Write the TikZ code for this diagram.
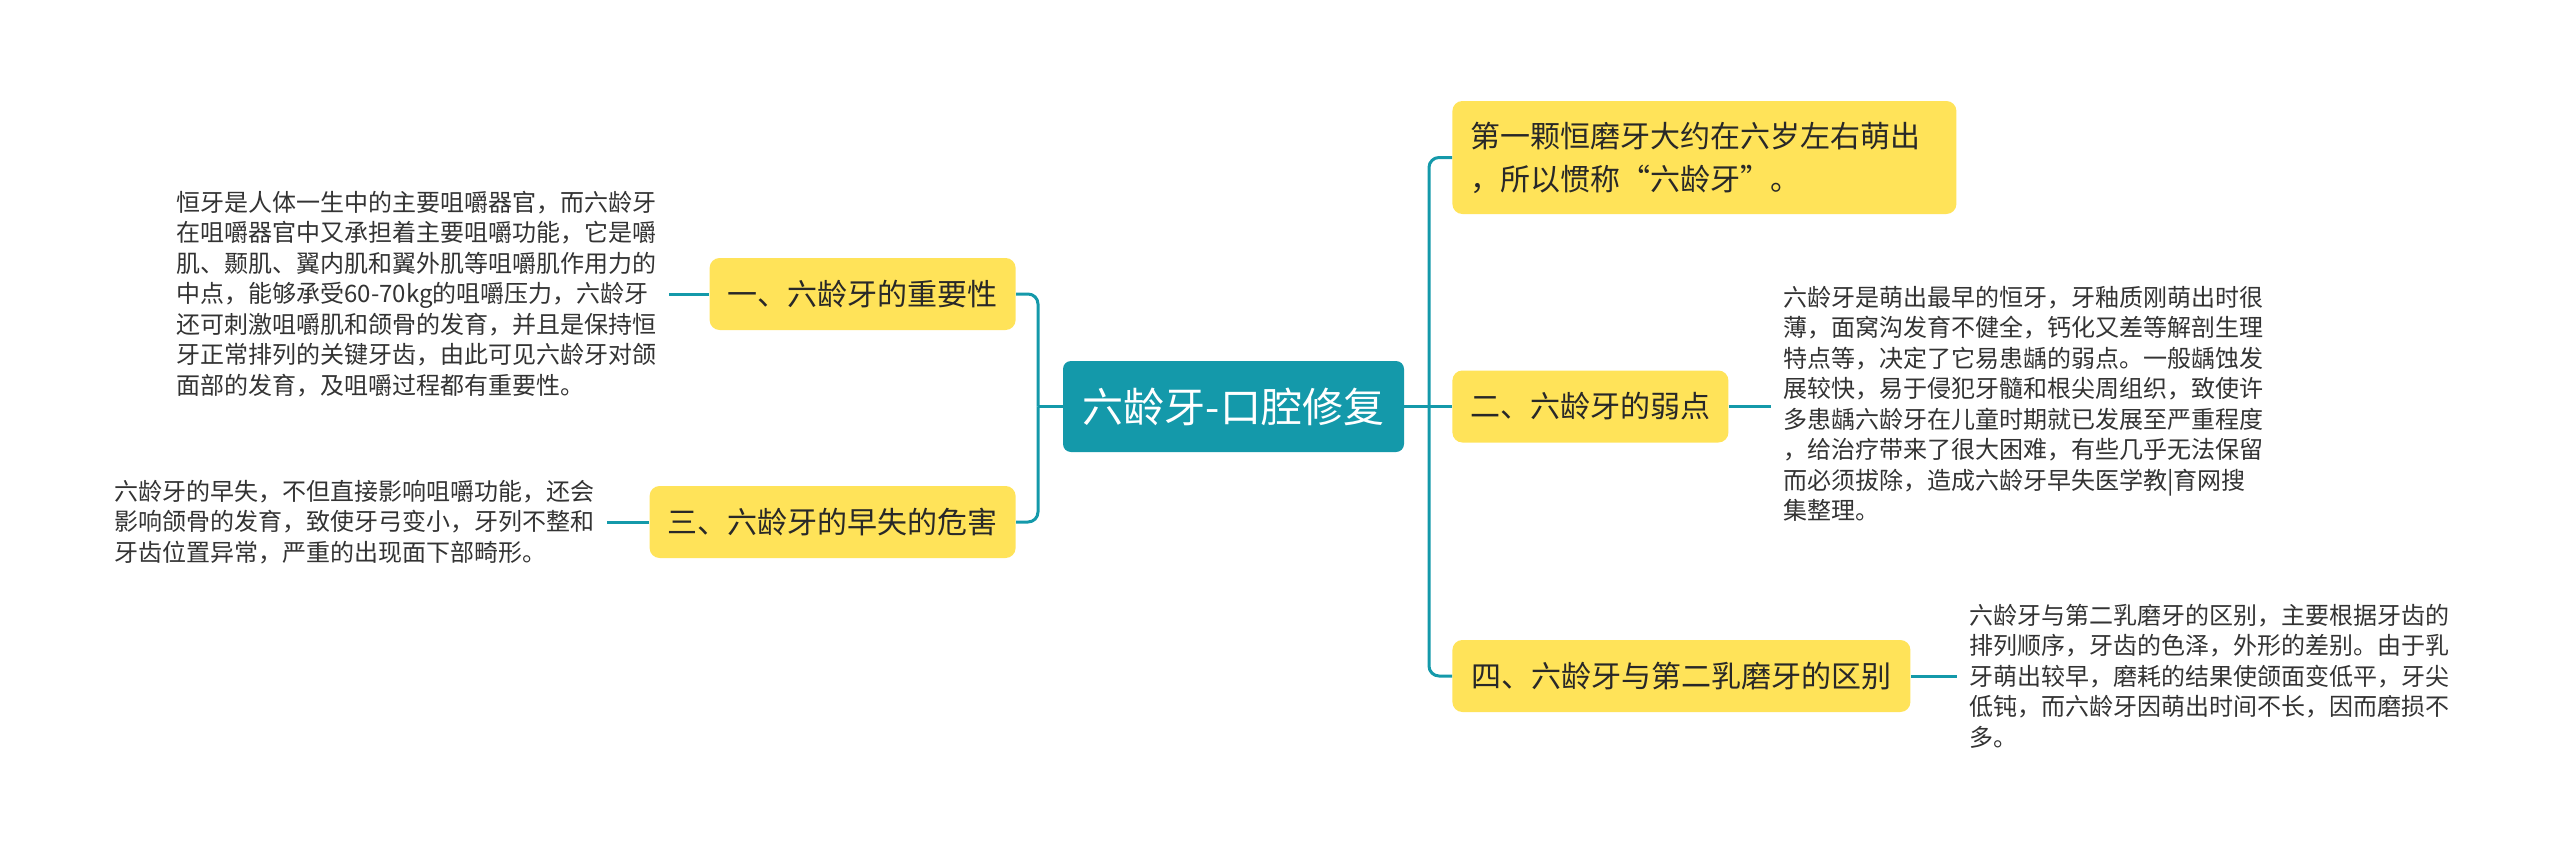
\documentclass[tikz,border=0pt]{standalone}
\usepackage{fontspec}
\setmainfont{Noto Sans CJK SC}
\definecolor{teal1}{RGB}{20,153,170}
\definecolor{yel}{RGB}{255,227,89}
\definecolor{txt}{RGB}{40,40,40}
\definecolor{txt2}{RGB}{51,51,51}
\tikzset{
  topic/.style={fill=yel, rounded corners=5pt, text=txt, font=\fontsize{15pt}{21.5pt}\selectfont, inner xsep=9pt, inner ysep=0pt, minimum height=36pt},
  central/.style={fill=teal1, rounded corners=4pt, text=white, font=\fontsize{20.5pt}{24pt}\selectfont, minimum width=170.5pt, minimum height=45.5pt, inner sep=0pt},
  note/.style={align=left, text=txt2, font=\fontsize{12pt}{15.25pt}\selectfont, inner xsep=6pt, inner ysep=0pt},
  link/.style={draw=teal1, line width=1.5pt, rounded corners=5pt}
}
\begin{document}
\begin{tikzpicture}[x=0.5pt,y=-0.5pt]
\useasboundingbox (0,0) rectangle (2560,867);
\node[central] (c) at (1233.5,406.5) {六龄牙-口腔修复};
\node[topic, anchor=east, minimum width=152pt] (n1) at (1016,294) {一、六龄牙的重要性};
\node[topic, anchor=east, minimum width=183pt] (n3) at (1016,522) {三、六龄牙的早失的危害};
\node[topic, anchor=west, minimum height=56.5pt, text width=234pt, align=left] (nt) at (1452,157.5) {第一颗恒磨牙大约在六岁左右萌出\\，所以惯称“六龄牙”。};
\node[topic, anchor=west, minimum width=137.5pt] (n2) at (1452,406.5) {二、六龄牙的弱点};
\node[topic, anchor=west, minimum width=229pt] (n4) at (1452,676) {四、六龄牙与第二乳磨牙的区别};
\node[note, anchor=west] (t1) at (164,294) {恒牙是人体一生中的主要咀嚼器官，而六龄牙\\在咀嚼器官中又承担着主要咀嚼功能，它是嚼\\肌、颞肌、翼内肌和翼外肌等咀嚼肌作用力的\\中点，能够承受60-70kg的咀嚼压力，六龄牙\\还可刺激咀嚼肌和颌骨的发育，并且是保持恒\\牙正常排列的关键牙齿，由此可见六龄牙对颌\\面部的发育，及咀嚼过程都有重要性。};
\node[note, anchor=west] (t3) at (102,522) {六龄牙的早失，不但直接影响咀嚼功能，还会\\影响颌骨的发育，致使牙弓变小，牙列不整和\\牙齿位置异常，严重的出现面下部畸形。};
\node[note, anchor=west] (t2) at (1771,404) {六龄牙是萌出最早的恒牙，牙釉质刚萌出时很\\薄，面窝沟发育不健全，钙化又差等解剖生理\\特点等，决定了它易患龋的弱点。一般龋蚀发\\展较快，易于侵犯牙髓和根尖周组织，致使许\\多患龋六龄牙在儿童时期就已发展至严重程度\\，给治疗带来了很大困难，有些几乎无法保留\\而必须拔除，造成六龄牙早失医学教|育网搜\\集整理。};
\node[note, anchor=west] (t4) at (1957,676) {六龄牙与第二乳磨牙的区别，主要根据牙齿的\\排列顺序，牙齿的色泽，外形的差别。由于乳\\牙萌出较早，磨耗的结果使颌面变低平，牙尖\\低钝，而六龄牙因萌出时间不长，因而磨损不\\多。};
\coordinate (jl) at (1038,406.5);
\coordinate (jr) at (1429,406.5);
\draw[link] (c.west) -- (jl);
\draw[link] (jl) |- (n1.east);
\draw[link] (jl) |- (n3.east);
\draw[link] (c.east) -- (jr);
\draw[link] (jr) |- (nt.west);
\draw[link] (jr) -- (n2.west);
\draw[link] (jr) |- (n4.west);
\draw[link] (n1.west) -- (t1.east);
\draw[link] (n3.west) -- (t3.east);
\draw[link] (n2.east) -- (t2.west |- n2.east);
\draw[link] (n4.east) -- (t4.west);
\end{tikzpicture}
\end{document}
